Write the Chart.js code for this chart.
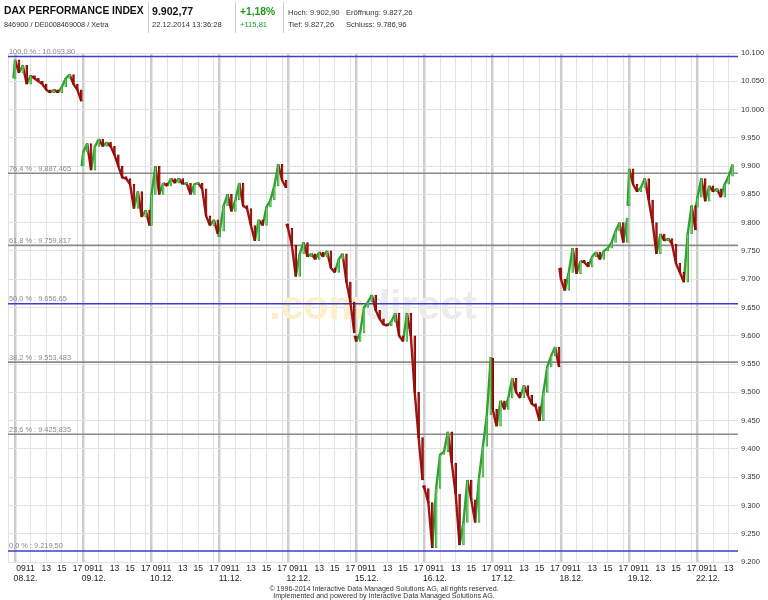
<!DOCTYPE html>
<html><head><meta charset="utf-8">
<script src="https://cdn.jsdelivr.net/npm/chart.js@4.4.0/dist/chart.umd.min.js"></script>
<style>
html,body{margin:0;padding:0;background:#fff;}
body{width:768px;height:600px;overflow:hidden;position:relative;font-family:"Liberation Sans",Arial,sans-serif;color:#222;}
#wrap{position:absolute;left:0;top:0;width:768px;height:600px;}
.t{position:absolute;white-space:nowrap;line-height:1;}
.big{font-weight:bold;font-size:10.3px;color:#111;}
.sm{font-size:7.6px;color:#333;}
.grn{color:#1f9a1f;}
.div{position:absolute;top:2px;width:1px;height:31px;background:#cfcfcf;}
.foot{position:absolute;left:0;width:768px;text-align:center;font-size:7.1px;color:#333;line-height:1;}
</style></head>
<body>
<div id="wrap"><canvas id="c" width="768" height="600"></canvas></div>
<div class="t big" style="left:4px;top:6px;">DAX PERFORMANCE INDEX</div>
<div class="t sm" style="left:4px;top:21px;font-size:7.3px;">846900 / DE0008469008 / Xetra</div>
<div class="div" style="left:148px"></div>
<div class="t big" style="left:152px;top:6px;font-size:10.6px;">9.902,77</div>
<div class="t sm" style="left:152px;top:21px;">22.12.2014 13:36:28</div>
<div class="div" style="left:235px"></div>
<div class="t big grn" style="left:240px;top:7px;">+1,18%</div>
<div class="t sm grn" style="left:240px;top:21px;">+115,81</div>
<div class="div" style="left:283px"></div>
<div class="t sm" style="left:288px;top:9px;">Hoch: 9.902,90</div>
<div class="t sm" style="left:346px;top:9px;">Eröffnung: 9.827,26</div>
<div class="t sm" style="left:288px;top:21px;">Tief: 9.827,26</div>
<div class="t sm" style="left:346px;top:21px;">Schluss: 9.786,96</div>
<div class="foot" style="top:586px;">© 1996-2014 Interactive Data Managed Solutions AG, all rights reserved.</div>
<div class="foot" style="top:593px;">Implemented and powered by Interactive Data Managed Solutions AG.</div>
<script>
// ---- data (30-minute closes per trading day, 09:00 .. 17:30) ----
const dayLabels = ["08.12.","09.12.","10.12.","11.12.","12.12.","15.12.","16.12.","17.12.","18.12.","19.12.","22.12."];
const dayOpen   = [10055, 9900, 9795, 9775, 9798, 9600, 9335, 9560, 9720, 9830, 9827.26];
const close0812 = [10088,10065,10078,10045,10060,10055,10050,10045,10035,10030,10035,10030,10040,10055,10062,10045,10035,10015];
const close0912 = [9925,9940,9893,9935,9948,9935,9942,9935,9920,9900,9880,9878,9868,9825,9855,9810,9822,9795];
const close1012 = [9850,9900,9850,9870,9865,9878,9870,9878,9868,9870,9850,9868,9870,9860,9812,9795,9805,9780];
const close1112 = [9785,9830,9850,9820,9840,9870,9830,9825,9795,9768,9805,9795,9828,9840,9865,9903,9875,9862];
const close1212 = [9790,9760,9705,9745,9765,9740,9745,9735,9748,9740,9750,9720,9712,9735,9745,9695,9660,9605];
const close1512 = [9590,9605,9650,9660,9672,9645,9630,9620,9618,9625,9640,9600,9590,9640,9600,9500,9420,9345];
const close1612 = [9330,9305,9225,9330,9390,9395,9430,9375,9320,9230,9270,9345,9310,9270,9350,9405,9460,9562];
const close1712 = [9470,9440,9485,9470,9490,9525,9500,9490,9512,9495,9480,9475,9450,9500,9545,9565,9580,9545];
const close1812 = [9700,9680,9712,9755,9710,9732,9730,9722,9740,9748,9735,9750,9755,9765,9785,9800,9765,9808];
const close1912 = [9895,9868,9855,9862,9878,9840,9800,9745,9780,9768,9772,9762,9728,9712,9695,9780,9830,9787];
const close2212 = [9845,9878,9838,9865,9855,9860,9845,9868,9882,9902.77];
const dayCloses = [close0812,close0912,close1012,close1112,close1212,close1512,close1612,close1712,close1812,close1912,close2212];

const gridHours  = [9, 11, 13, 15, 17];
const labelHours = [13, 15, 17];
const labelText  = ["13", "15", "17"];
const openLabel  = "0911";

const fibPct       = ["100,0 %","76,4 %","61,8 %","50,0 %","38,2 %","23,6 %","0,0 %"];
const fibValues    = [10093.80, 9887.465, 9759.817, 9656.65, 9553.483, 9425.835, 9219.50];
const fibValueText = ["10.093,80","9.887,465","9.759,817","9.656,65","9.553,483","9.425,835","9.219,50"];
const fibBlue      = [true,false,false,true,false,false,true];

const yMin = 9200, yMax = 10100, yStep = 50;

// ---- axis layout ----
const DAY_LEN = 8.75;      // hours of one day slot on the time axis
const xMin = -0.9, xMax = 92.7;
const HALF = 0.5;

const GREEN = '#6fcf6f', GREEN_D = '#33a033', RED = '#a3140f', RED_D = '#7d0a06';
const bars = [], fills = [], borders = [], path = [];
dayCloses.forEach((cl, k) => {
  let o = dayOpen[k];
  const x0 = k*DAY_LEN;
  path.push({x: x0 - 0.2, y: o});
  cl.forEach((c, i) => {
    const x = x0 + i*HALF;
    bars.push({x, y: [o, c]});
    path.push({x, y: c});
    const up = c >= o;
    fills.push(up ? GREEN : RED);
    borders.push(up ? GREEN_D : RED_D);
    o = c;
  });
  path.push({x: x0 + cl.length*HALF - 0.2, y: null});
});

const gridTicks = [{v:xMin, day:false}];
dayLabels.forEach((d, k) => {
  gridHours.forEach(h => {
    const v = k*DAY_LEN + (h-9);
    if (v <= xMax) gridTicks.push({v, day: h===9});
  });
});
const labelTicks = [];
dayLabels.forEach((d, k) => {
  labelTicks.push({v: k*DAY_LEN + 1.35, t: [openLabel, d]});
  labelHours.forEach((h, j) => {
    const v = k*DAY_LEN + (h-9);
    if (v <= xMax - 0.6) labelTicks.push({v, t: labelText[j]});
  });
});

const fmt = v => String(v).replace(/\B(?=(\d{3})+(?!\d))/g, '.');
const FONT = '"Liberation Sans", Arial, sans-serif';

const fibSets = fibValues.map((v, i) => ({
  type: 'line', label: fibPct[i], xAxisID: 'x', yAxisID: 'y', order: 3,
  data: [{x:xMin, y:v}, {x:xMax, y:v}],
  borderColor: fibBlue[i] ? '#3c3cd0' : '#8a8a8a', borderWidth: 1.6,
  pointRadius: 0, fill: false, tension: 0
}));

const overlay = {
  id: 'overlay',
  beforeDatasetsDraw(chart) {
    const {ctx, chartArea, scales} = chart;
    ctx.save();
    ctx.font = 'bold 41px ' + FONT;
    ctx.textBaseline = 'middle';
    const a = '.com', b = 'direct';
    const wa = ctx.measureText(a).width, wb = ctx.measureText(b).width;
    const cx = (chartArea.left + chartArea.right)/2, cy = (chartArea.top + chartArea.bottom)/2;
    const sx = cx - (wa + wb)/2;
    ctx.fillStyle = '#fdf1cc'; ctx.fillText(a, sx, cy);
    ctx.fillStyle = '#ececec'; ctx.fillText(b, sx + wa, cy);
    ctx.font = '7.4px ' + FONT;
    ctx.fillStyle = '#8a8a8a';
    ctx.textBaseline = 'alphabetic';
    fibValues.forEach((v, i) => {
      ctx.fillText(fibPct[i] + ' : ' + fibValueText[i], chartArea.left + 1, scales.y.getPixelForValue(v) - 2.5);
    });
    ctx.restore();
  }
};

new Chart(document.getElementById('c'), {
  type: 'bar',
  data: {
    datasets: [
      { type:'bar', label:'DAX', data: bars, xAxisID:'x', yAxisID:'y', order: 1,
        backgroundColor: fills, borderColor: borders, borderWidth: 0.8, borderSkipped: false,
        barPercentage: 1.0, categoryPercentage: 1.0, minBarLength: 2 },
      { type:'line', label:'DAX path', data: path, xAxisID:'x', yAxisID:'y', order: 2,
        borderWidth: 2.4, pointRadius: 0, spanGaps: false, tension: 0, fill: false,
        borderColor: RED, borderJoinStyle: 'miter',
        segment: { borderColor: c => c.p1.parsed.y >= c.p0.parsed.y ? GREEN_D : RED } },
      ...fibSets
    ]
  },
  options: {
    responsive: false, animation: false, devicePixelRatio: 1,
    layout: { padding: {left: 8, top: 53, right: 0, bottom: 0} },
    plugins: { legend: {display:false}, tooltip: {enabled:false} },
    scales: {
      x: {
        type: 'linear', position: 'bottom', min: xMin, max: xMax, offset: false,
        grid: {display: false, drawTicks: false}, border: {display: false},
        afterBuildTicks: s => { s.ticks = labelTicks.map(o => ({value: o.v})); },
        afterFit: s => { s.height = 38; },
        ticks: { autoSkip: false, maxRotation: 0, minRotation: 0, padding: 1,
          font: {family: FONT, size: 8.6, lineHeight: 1.2}, color: '#222',
          callback: (v, i) => labelTicks[i] ? labelTicks[i].t : '' }
      },
      xg: {
        type: 'linear', position: 'top', min: xMin, max: xMax, offset: false,
        border: {display: false},
        grid: { offset: false, drawTicks: false,
          color: c => (gridTicks[c.index] && gridTicks[c.index].day) ? '#cdcdcd' : '#e2e2e2',
          lineWidth: c => (gridTicks[c.index] && gridTicks[c.index].day) ? 2.5 : 1 },
        ticks: {display: false},
        afterBuildTicks: s => { s.ticks = gridTicks.map(o => ({value: o.v})); },
        afterFit: s => { s.height = 0; }
      },
      y: {
        position: 'right', min: yMin, max: yMax,
        border: {display: false},
        grid: {color: '#e2e2e2', lineWidth: 1, drawTicks: false},
        afterFit: s => { s.width = 30; },
        ticks: { stepSize: yStep, padding: 3, font: {family: FONT, size: 7.6}, color: '#333',
          callback: v => fmt(v) }
      }
    }
  },
  plugins: [overlay]
});
</script>
</body></html>
